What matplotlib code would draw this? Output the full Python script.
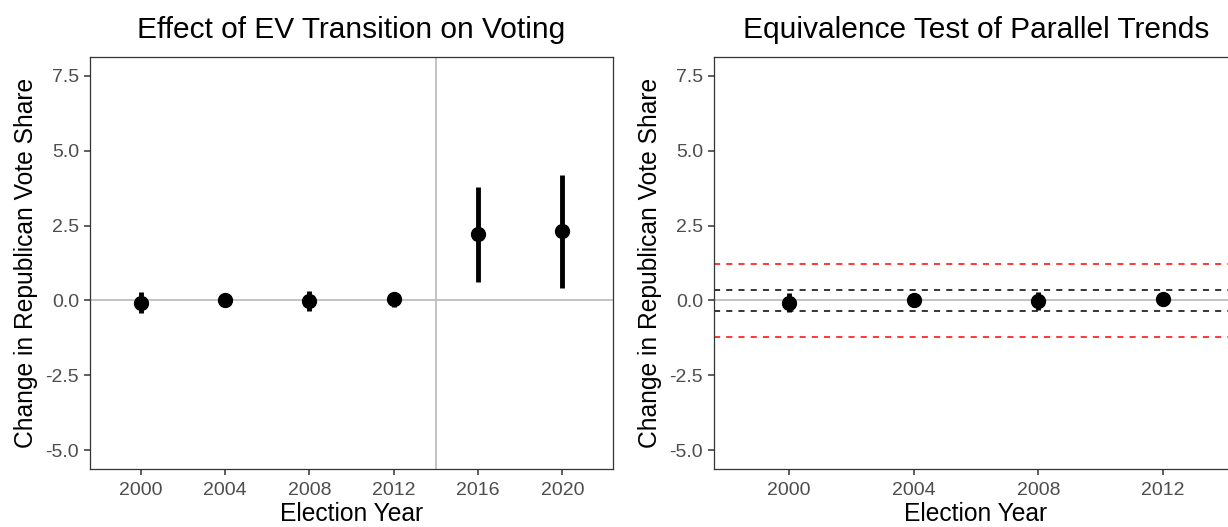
import matplotlib
matplotlib.use('Agg')
import matplotlib.pyplot as plt

plt.rcParams['font.family'] = ['Liberation Sans', 'DejaVu Sans']

# Event-study estimates (change in Republican vote share)
years = ['2000', '2004', '2008', '2012', '2016', '2020']
estimates = [-0.07, 0.03, -0.02, 0.04, 2.21, 2.31]
ci_low = [-0.43, -0.12, -0.34, -0.23, 0.60, 0.43]
ci_high = [0.29, 0.18, 0.30, 0.29, 3.80, 4.19]

# Pre-period only, used for the equivalence panel
pre_years = ['2000', '2004', '2008', '2012']
pre_estimates = [-0.07, 0.03, -0.02, 0.04]
pre_low = [-0.40, -0.10, -0.32, -0.20]
pre_high = [0.26, 0.16, 0.28, 0.26]

# Equivalence bounds
inner_bound = 0.36
outer_bound = 1.22

yticks = [-5.0, -2.5, 0.0, 2.5, 5.0, 7.5]
ylims = (-5.625, 8.125)

GREY20 = '#333333'
GREY30 = '#4D4D4D'
REFLINE = '#BEBEBE'


def style_axes(ax, n):
    ax.set_xlim(-0.6, n - 1 + 0.6)
    ax.set_ylim(*ylims)
    ax.set_yticks(yticks)
    ax.set_yticklabels([f'{t:.1f}' for t in yticks])
    ax.tick_params(axis='both', colors=GREY20, labelcolor=GREY30,
                   labelsize=14, length=4.5, width=1.1, pad=3.5)
    ax.tick_params(axis='x', pad=5)
    for s in ax.spines.values():
        s.set_color(GREY20)
        s.set_linewidth(0.9)
    ax.set_xlabel('Election Year', fontsize=17.7, labelpad=2)
    ax.set_ylabel('Change in Republican Vote Share', fontsize=17.7, labelpad=5)


def draw_points(ax, labels, est, lo, hi):
    x = list(range(len(labels)))
    yerr = [[e - l for e, l in zip(est, lo)], [h - e for e, h in zip(est, hi)]]
    ax.errorbar(x, est, yerr=yerr, fmt='o', color='black', ms=10,
                elinewidth=3.5, capsize=0, zorder=5)
    ax.set_xticks(x)
    ax.set_xticklabels(labels)


fig = plt.figure(figsize=(12.28, 5.27), dpi=100)
ax1 = fig.add_axes([90 / 1228, 58 / 527, 523 / 1228, 412 / 527])
ax2 = fig.add_axes([714 / 1228, 58 / 527, 524 / 1228, 412 / 527])

# Left panel
ax1.axhline(0, color=REFLINE, lw=1.3, zorder=1)
ax1.axvline(3.5, color=REFLINE, lw=1.3, zorder=1)
draw_points(ax1, years, estimates, ci_low, ci_high)
style_axes(ax1, len(years))
ax1.set_title('Effect of EV Transition on Voting', fontsize=21.5, pad=14)

# Right panel
ax2.axhline(0, color=REFLINE, lw=1.3, zorder=1)
for b in (inner_bound, -inner_bound):
    ax2.axhline(b, color='black', lw=1.1, dashes=(4, 4), zorder=2)
for b in (outer_bound, -outer_bound):
    ax2.axhline(b, color='#FF0000', lw=1.1, dashes=(4, 4), zorder=2)
draw_points(ax2, pre_years, pre_estimates, pre_low, pre_high)
style_axes(ax2, len(pre_years))
ax2.set_title('Equivalence Test of Parallel Trends', fontsize=21.5, pad=14)

fig.savefig('out.png', dpi=100)
